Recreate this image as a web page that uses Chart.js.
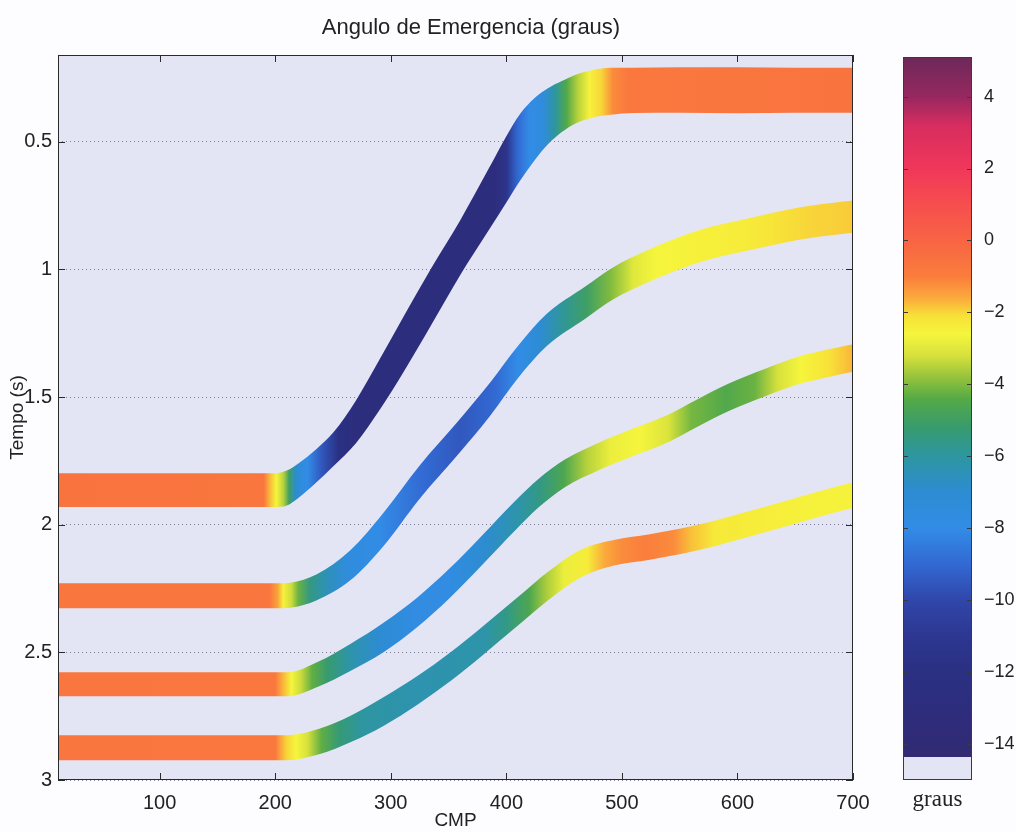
<!DOCTYPE html>
<html>
<head>
<meta charset="utf-8">
<script src="https://cdn.jsdelivr.net/npm/chart.js@4.4.1/dist/chart.umd.min.js"></script>
<style>
  html, body { margin: 0; padding: 0; background: #fdfcfe; }
  #wrap { position: relative; width: 1016px; height: 832px; overflow: hidden; }
  #main { position: absolute; left: 0; top: 0; width: 1016px; height: 832px; }
  #bar { position: absolute; left: 880px; top: 0; width: 136px; height: 832px; }
  #title { position: absolute; left: 0; top: 14px; width: 942px; text-align: center;
           font: 22px "Liberation Sans", Arial, sans-serif; color: #222; }
</style>
</head>
<body>
<div id="wrap">
  <div id="main"><canvas id="chart"></canvas></div>
  <div id="bar"><canvas id="cbar"></canvas></div>
  <div id="title">Angulo de Emergencia (graus)</div>
</div>
<script>
const xTicks = [100, 200, 300, 400, 500, 600, 700];
const yTicks = [0.5, 1, 1.5, 2, 2.5, 3];
const barTicks = [-14, -12, -10, -8, -6, -4, -2, 0, 2, 4];

// reflector 1 (top / bottom edge of the band, in s)
const band1Cmp = [12, 100, 200, 210, 220, 235, 250, 270, 290, 310, 335, 360, 385, 400, 412, 424, 436, 448, 460, 475, 490, 510, 550, 600, 650, 700];
const band1Top = [1.798, 1.798, 1.798, 1.788, 1.760, 1.706, 1.640, 1.512, 1.355, 1.193, 0.995, 0.808, 0.603, 0.478, 0.390, 0.330, 0.290, 0.262, 0.237, 0.219, 0.210, 0.210, 0.208, 0.208, 0.210, 0.210];
const band1Bot = [1.931, 1.931, 1.931, 1.925, 1.895, 1.837, 1.772, 1.680, 1.553, 1.410, 1.218, 1.023, 0.845, 0.738, 0.652, 0.575, 0.510, 0.462, 0.428, 0.405, 0.394, 0.387, 0.386, 0.388, 0.386, 0.386];
const band1AngCmp = [12, 190, 196, 201, 207, 212, 218, 228, 240, 255, 270, 390, 400, 410, 420, 432, 442, 452, 462, 472, 482, 492, 505, 700];
const band1Ang = [-0.6, -0.7, -1.8, -2.6, -3.5, -5, -7, -8, -9.5, -12, -13, -13, -11.5, -9, -8, -7.5, -6, -4.5, -3.5, -2.5, -2, -1.2, -0.8, -0.6];

// reflector 2
const band2Cmp = [12, 100, 200, 213, 236, 265, 293, 325, 358, 386, 410, 435, 468, 493, 521, 548, 577, 607, 637, 667, 700];
const band2Top = [2.229, 2.229, 2.229, 2.227, 2.194, 2.100, 1.957, 1.768, 1.596, 1.443, 1.300, 1.174, 1.068, 0.990, 0.927, 0.876, 0.833, 0.802, 0.772, 0.748, 0.730];
const band2Bot = [2.327, 2.327, 2.327, 2.325, 2.296, 2.218, 2.087, 1.898, 1.726, 1.573, 1.426, 1.300, 1.194, 1.116, 1.053, 1.002, 0.959, 0.928, 0.898, 0.874, 0.856];
const band2AngCmp = [12, 195, 202, 207, 214, 220, 230, 245, 262, 290, 330, 360, 390, 410, 430, 450, 470, 490, 510, 530, 560, 600, 630, 660, 700];
const band2Ang = [-0.7, -0.7, -1.5, -2.5, -3.3, -4.2, -5.5, -6.5, -7.5, -8, -9, -9.5, -9, -8, -7, -5.8, -5, -4, -3, -2.6, -2.5, -2.4, -2.2, -2.0, -1.9];

// reflector 3
const band3Cmp = [12, 100, 211, 237, 265, 294, 323, 351, 379, 408, 428, 451, 479, 508, 537, 565, 593, 623, 651, 679, 700];
const band3Top = [2.578, 2.578, 2.578, 2.537, 2.467, 2.383, 2.285, 2.171, 2.042, 1.905, 1.820, 1.744, 1.681, 1.626, 1.575, 1.509, 1.446, 1.391, 1.344, 1.313, 1.293];
const band3Bot = [2.672, 2.672, 2.672, 2.635, 2.573, 2.499, 2.401, 2.287, 2.158, 2.021, 1.932, 1.852, 1.789, 1.734, 1.683, 1.617, 1.554, 1.499, 1.452, 1.421, 1.401];
const band3AngCmp = [12, 200, 208, 214, 222, 232, 245, 265, 290, 320, 350, 380, 410, 430, 450, 470, 490, 515, 540, 560, 590, 615, 635, 655, 680, 700];
const band3Ang = [-0.7, -0.8, -1.8, -2.6, -3.3, -4.3, -5.2, -6.2, -7, -7.8, -7.8, -7, -6.2, -5.5, -4.6, -3.5, -2.8, -2.6, -3.1, -4.1, -4.5, -4.2, -3.2, -2.6, -2.1, -1.7];

// reflector 4
const band4Cmp = [12, 100, 208, 238, 266, 294, 323, 352, 380, 409, 437, 465, 495, 523, 551, 581, 609, 637, 667, 700];
const band4Top = [2.825, 2.825, 2.825, 2.799, 2.746, 2.675, 2.593, 2.499, 2.397, 2.287, 2.181, 2.097, 2.058, 2.038, 2.015, 1.983, 1.948, 1.913, 1.874, 1.834];
const band4Bot = [2.923, 2.923, 2.923, 2.899, 2.850, 2.787, 2.705, 2.611, 2.509, 2.399, 2.293, 2.205, 2.158, 2.138, 2.115, 2.083, 2.048, 2.013, 1.974, 1.934];
const band4AngCmp = [12, 200, 210, 218, 228, 240, 255, 275, 320, 380, 400, 420, 435, 450, 470, 485, 500, 520, 545, 560, 580, 620, 660, 700];
const band4Ang = [-0.7, -0.8, -2, -2.6, -3.2, -4.3, -5.3, -6, -6.3, -6.2, -5.6, -4.6, -3.6, -2.8, -2.4, -1.6, -1.2, -1.0, -1.2, -1.8, -2.3, -2.4, -2.5, -2.5];

const barMin = -15, barMax = 5.1, barFloor = -14.35;

// colour map
const cmapVal = [-14.35, -13, -12, -11, -10, -9, -8, -7, -6, -5.2, -4.4, -3.8, -3.2, -2.6, -2.1, -1.6, -1, 0, 1, 2, 3.2, 4, 5.1];
const cmapRgb = [[50,42,115],[45,45,125],[42,48,130],[45,55,145],[48,70,170],[50,105,210],[50,140,230],[45,140,210],[45,150,160],[55,155,110],[85,170,70],[150,195,60],[215,225,60],[245,245,60],[248,225,55],[250,170,60],[250,125,60],[248,100,68],[246,78,78],[240,55,90],[215,45,95],[150,40,95],[110,40,90]];
const plotBg = "rgb(227,229,245)";
const fontFamily = "'Liberation Sans', Arial, sans-serif";

function colorAt(v) {
  if (v <= cmapVal[0]) return "rgb(" + cmapRgb[0].join(",") + ")";
  for (let i = 1; i < cmapVal.length; i++) {
    if (v <= cmapVal[i]) {
      const f = (v - cmapVal[i - 1]) / (cmapVal[i] - cmapVal[i - 1]);
      const a = cmapRgb[i - 1], b = cmapRgb[i];
      return "rgb(" + a.map((c, k) => Math.round(c + (b[k] - c) * f)).join(",") + ")";
    }
  }
  return "rgb(" + cmapRgb[cmapRgb.length - 1].join(",") + ")";
}

function bandFill(angCmp, ang) {
  return function (context) {
    const chart = context.chart;
    const area = chart.chartArea;
    if (!area) return "rgba(0,0,0,0)";
    const xs = chart.scales.x;
    const g = chart.ctx.createLinearGradient(area.left, 0, area.right, 0);
    angCmp.forEach((c, i) => {
      let f = (xs.getPixelForValue(c) - area.left) / (area.right - area.left);
      g.addColorStop(Math.min(1, Math.max(0, f)), colorAt(ang[i]));
    });
    return g;
  };
}

function bandSets(cmp, top, bot, angCmp, ang) {
  return [
    {
      data: cmp.map((c, i) => ({ x: c, y: top[i] })),
      fill: "+1",
      backgroundColor: bandFill(angCmp, ang),
      borderColor: "rgba(0,0,0,0)",
      borderWidth: 0,
      pointRadius: 0,
      cubicInterpolationMode: "monotone",
    },
    {
      data: cmp.map((c, i) => ({ x: c, y: bot[i] })),
      fill: false,
      borderColor: "rgba(0,0,0,0)",
      borderWidth: 0,
      pointRadius: 0,
      cubicInterpolationMode: "monotone",
    },
  ];
}

const plotDeco = {
  id: "plotDeco",
  beforeDraw(chart) {
    const a = chart.chartArea;
    const ctx = chart.ctx;
    ctx.save();
    ctx.fillStyle = plotBg;
    ctx.fillRect(a.left, a.top, a.right - a.left, a.bottom - a.top);
    ctx.restore();
  },
  afterDraw(chart) {
    const a = chart.chartArea;
    const ctx = chart.ctx;
    ctx.save();
    ctx.strokeStyle = "#2a2a2a";
    ctx.lineWidth = 1;
    ctx.strokeRect(a.left + 0.5, a.top + 0.5, a.right - a.left - 1, a.bottom - a.top - 1);
    ctx.beginPath();
    xTicks.forEach((v) => {
      const px = Math.round(chart.scales.x.getPixelForValue(v)) + 0.5;
      ctx.moveTo(px, a.bottom); ctx.lineTo(px, a.bottom - 7);
      ctx.moveTo(px, a.top); ctx.lineTo(px, a.top + 7);
    });
    yTicks.forEach((v) => {
      const py = Math.round(chart.scales.y.getPixelForValue(v)) + 0.5;
      ctx.moveTo(a.left, py); ctx.lineTo(a.left + 7, py);
      ctx.moveTo(a.right, py); ctx.lineTo(a.right - 7, py);
    });
    ctx.stroke();
    ctx.restore();
  },
};

Chart.defaults.font.family = fontFamily;
Chart.defaults.color = "#222";

const mainChart = new Chart(document.getElementById("chart"), {
  type: "line",
  data: {
    datasets: [].concat(
      bandSets(band1Cmp, band1Top, band1Bot, band1AngCmp, band1Ang),
      bandSets(band2Cmp, band2Top, band2Bot, band2AngCmp, band2Ang),
      bandSets(band3Cmp, band3Top, band3Bot, band3AngCmp, band3Ang),
      bandSets(band4Cmp, band4Top, band4Bot, band4AngCmp, band4Ang)
    ),
  },
  options: {
    animation: false,
    responsive: true,
    maintainAspectRatio: false,
    layout: { padding: { left: 0, right: 163, top: 55, bottom: 0 } },
    plugins: {
      legend: { display: false },
      tooltip: { enabled: false },
      filler: { propagate: false },
    },
    scales: {
      x: {
        type: "linear",
        min: 12,
        max: 700,
        afterBuildTicks: (s) => { s.ticks = xTicks.map((v) => ({ value: v })); },
        afterFit: (s) => { s.height = 52; },
        grid: { display: false, drawTicks: false },
        border: { display: false },
        ticks: { padding: 11, font: { size: 20 }, callback: (v) => String(v) },
        title: { display: true, text: "CMP", font: { size: 19 }, padding: { top: 0, bottom: 0 } },
      },
      y: {
        type: "linear",
        reverse: true,
        min: 0.16,
        max: 3,
        afterBuildTicks: (s) => { s.ticks = yTicks.map((v) => ({ value: v })); },
        afterFit: (s) => { s.width = 58; },
        grid: { color: "rgba(70,70,95,0.65)", lineWidth: 1, drawTicks: false },
        border: { display: false, dash: [1, 3] },
        ticks: { padding: 6, font: { size: 20 }, callback: (v) => String(v) },
        title: { display: true, text: "Tempo (s)", font: { size: 19 }, padding: { top: 6, bottom: 0 } },
      },
    },
  },
  plugins: [plotDeco],
});

function barFill(context) {
  const chart = context.chart;
  const area = chart.chartArea;
  if (!area) return "rgba(0,0,0,0)";
  const ys = chart.scales.y;
  const y0 = ys.getPixelForValue(barMax), y1 = ys.getPixelForValue(barMin);
  const g = chart.ctx.createLinearGradient(0, y0, 0, y1);
  for (let i = cmapVal.length - 1; i >= 0; i--) {
    g.addColorStop((ys.getPixelForValue(cmapVal[i]) - y0) / (y1 - y0), colorAt(cmapVal[i]));
  }
  const f = (ys.getPixelForValue(barFloor) - y0) / (y1 - y0);
  g.addColorStop(Math.min(1, f + 0.001), plotBg);
  g.addColorStop(1, plotBg);
  return g;
}

const barDeco = {
  id: "barDeco",
  afterDraw(chart) {
    const a = chart.chartArea;
    const ctx = chart.ctx;
    ctx.save();
    ctx.strokeStyle = "#3a3a3a";
    ctx.lineWidth = 1;
    ctx.strokeRect(a.left + 0.5, a.top + 0.5, a.right - a.left - 1, a.bottom - a.top - 1);
    ctx.beginPath();
    barTicks.forEach((v) => {
      const py = Math.round(chart.scales.y.getPixelForValue(v)) + 0.5;
      ctx.moveTo(a.left, py); ctx.lineTo(a.left + 5, py);
      ctx.moveTo(a.right, py); ctx.lineTo(a.right - 5, py);
    });
    ctx.stroke();
    ctx.restore();
  },
};

const barChart = new Chart(document.getElementById("cbar"), {
  type: "bar",
  data: {
    labels: ["graus"],
    datasets: [{
      data: [[barMin, barMax]],
      backgroundColor: barFill,
      borderWidth: 0,
      barPercentage: 1,
      categoryPercentage: 1,
    }],
  },
  options: {
    animation: false,
    responsive: true,
    maintainAspectRatio: false,
    layout: { padding: { left: 23, right: 0, top: 57, bottom: 0 } },
    plugins: { legend: { display: false }, tooltip: { enabled: false } },
    scales: {
      x: {
        grid: { display: false },
        border: { display: false },
        ticks: { display: false },
        afterFit: (s) => { s.height = 52; },
        title: { display: true, text: "graus", font: { family: "'Liberation Serif', 'Times New Roman', serif", size: 23 }, padding: { top: 0, bottom: 18 } },
      },
      y: {
        position: "right",
        min: barMin,
        max: barMax,
        afterBuildTicks: (s) => { s.ticks = barTicks.map((v) => ({ value: v })); },
        afterFit: (s) => { s.width = 44; },
        grid: { display: false },
        border: { display: false },
        ticks: { padding: 4, font: { size: 18 }, callback: (v) => (v < 0 ? "\u2212" + Math.abs(v) : String(v)) },
      },
    },
  },
  plugins: [barDeco],
});
</script>
</body>
</html>
